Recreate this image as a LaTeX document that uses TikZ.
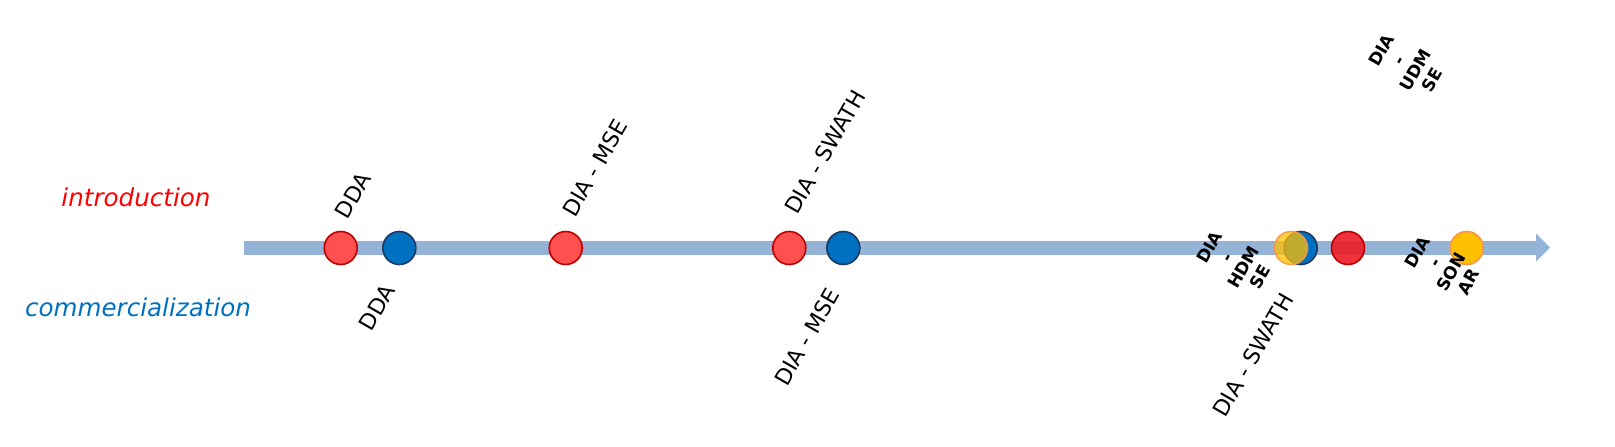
\documentclass[tikz,border=0pt]{standalone}
\usepackage{xcolor}
\usepackage{fontspec}
\setmainfont{DejaVu Sans}
\usepackage{tikz}

\definecolor{barblue}{HTML}{95B3D7}
\definecolor{introred}{HTML}{FF5050}
\definecolor{introedge}{HTML}{C00000}
\definecolor{commblue}{HTML}{0070C0}
\definecolor{commedge}{HTML}{203864}
\definecolor{brightred}{HTML}{ED1C24}
\definecolor{ambery}{HTML}{FFC000}
\definecolor{amberedge}{HTML}{F79646}

\begin{document}
\begin{tikzpicture}[x=0.5pt, y=-0.5pt]
		\tikzset{dot/.style={circle, minimum size=16.5pt, inner sep=0pt, line width=0.8pt},
			introdot/.style={dot, fill=introred, draw=introedge},
			commdot/.style={dot, fill=commblue, draw=commedge},
			tag/.style={rotate=60, font=\fontsize{11}{13}\selectfont},
			boldtag/.style={rotate=60, align=center, inner sep=0pt, font=\bfseries\fontsize{8.5}{9.8}\selectfont}};
		\useasboundingbox (0,0) rectangle (1615,446);
		\coordinate (start) at (244,247.5);
		\coordinate (stem) at (1536,247.5);
		\coordinate (tip) at (1550,247.5);
		\draw[barblue, line width=7pt] (start) -- (stem);
		\fill[barblue] (1536,233.5) -- (tip) -- (1536,261.5) -- cycle;
		
		\draw[] (136,197) node[red, font=\itshape\fontsize{12.3}{14}\selectfont] (intro) {introduction};
		\draw[] (138,307) node[commblue, font=\itshape\fontsize{12.3}{14}\selectfont] (comm) {commercialization};
		
		\node[introdot] (ddaI) at (340.7,248) {};
		\node[commdot] (ddaC) at (399.3,248) {};
		\node[introdot] (mseI) at (565.7,248) {};
		\node[introdot] (swathI) at (789.3,248) {};
		\node[commdot] (mseC) at (843.3,248) {};
		\node[commdot] (swathC) at (1300.7,248) {};
		\node[dot, fill=ambery, fill opacity=0.75, draw=amberedge, draw opacity=0.9] (hdmse) at (1291,248) {};
		\node[dot, fill=brightred, fill opacity=0.9, draw=introedge] (udmse) at (1348,248) {};
		\node[dot, fill=ambery, draw=amberedge] (sonar) at (1466.7,248) {};
		
		\draw[] (353,195) node[tag] (ddaItxt) {DDA};
		\draw[] (595,168) node[tag] (mseItxt) {DIA - MSE};
		\draw[] (825,152) node[tag] (swathItxt) {DIA - SWATH};
		\draw[] (377,307) node[tag] (ddaCtxt) {DDA};
		\draw[] (807,337) node[tag] (mseCtxt) {DIA - MSE};
		\draw[] (1253,355) node[tag] (swathCtxt) {DIA - SWATH};
		\draw[] (1235,262) node[boldtag] (hdmsetxt) {DIA\\-\\HDM\\SE};
		\draw[] (1407,65) node[boldtag] (udmsetxt) {DIA\\-\\UDM\\SE};
		\draw[] (1443,267) node[boldtag] (sonartxt) {DIA\\-\\SON\\AR};
			
	\end{tikzpicture}
\end{document}
